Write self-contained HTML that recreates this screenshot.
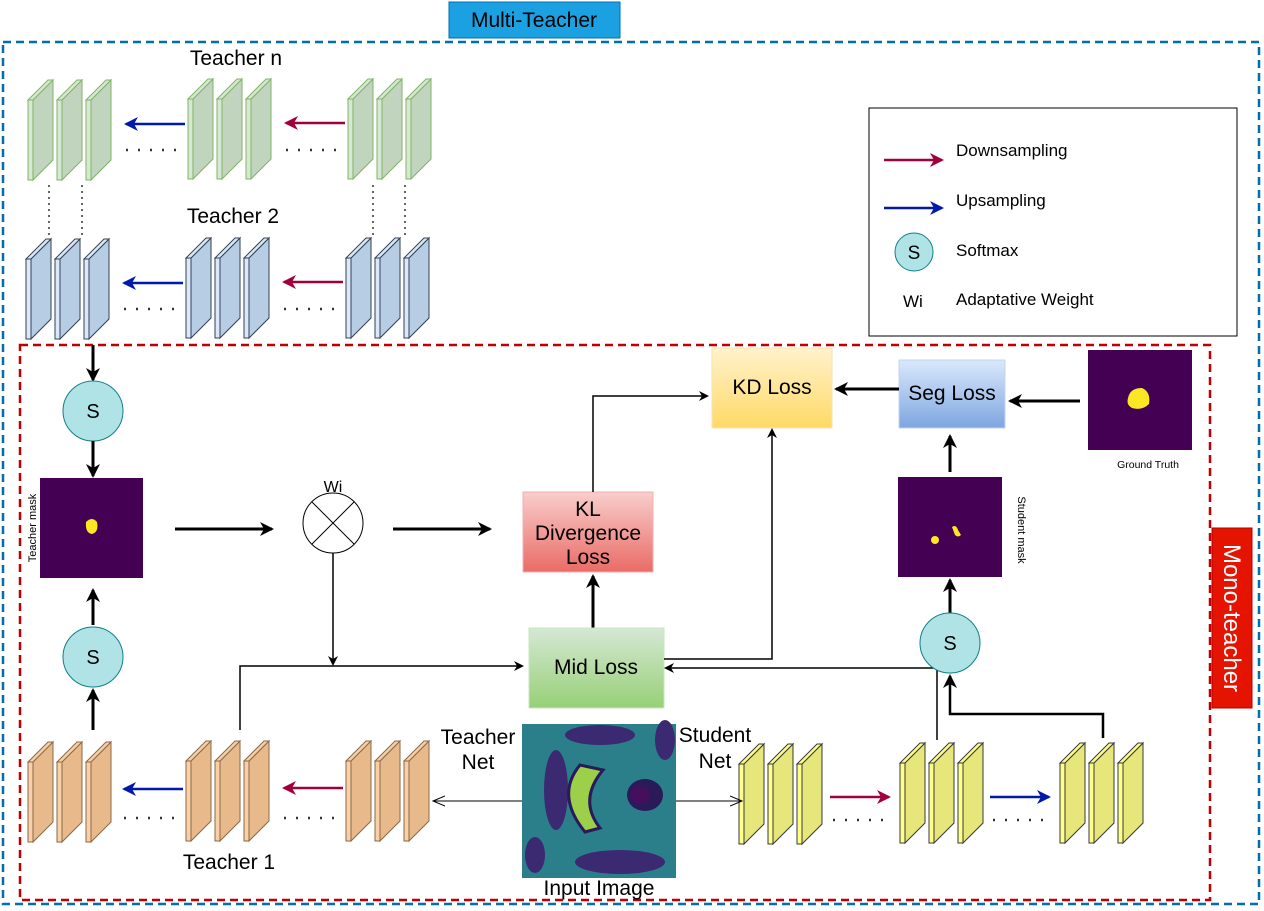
<!DOCTYPE html>
<html><head><meta charset="utf-8"><style>
body{margin:0;background:#fff;}
svg{display:block;font-family:"Liberation Sans",Arial,sans-serif;}
</style></head><body>
<svg width="1264" height="911" viewBox="0 0 1264 911" xmlns="http://www.w3.org/2000/svg">
<defs>
<marker id="ab" markerWidth="10" markerHeight="10" refX="8" refY="5" orient="auto" markerUnits="userSpaceOnUse"><path d="M0,0 L10,5 L0,10 L3,5 z" fill="#000"/></marker>
<marker id="abig" markerWidth="14" markerHeight="14" refX="12" refY="7" orient="auto" markerUnits="userSpaceOnUse"><path d="M0,0 L14,7 L0,14 L4,7 z" fill="#000"/></marker>
<marker id="ablue" markerWidth="14" markerHeight="14" refX="12" refY="7" orient="auto" markerUnits="userSpaceOnUse"><path d="M0,0 L14,7 L0,14 L4,7 z" fill="#0019a8"/></marker>
<marker id="ared" markerWidth="14" markerHeight="14" refX="12" refY="7" orient="auto" markerUnits="userSpaceOnUse"><path d="M0,0 L14,7 L0,14 L4,7 z" fill="#a0003c"/></marker>
<marker id="aopen" markerWidth="14" markerHeight="14" refX="12" refY="7" orient="auto" markerUnits="userSpaceOnUse"><path d="M0,2 L12,7 L0,12" fill="none" stroke="#000" stroke-width="1"/></marker>
<g id="lg"><polygon points="0,20 5,20 5,100 0,100" fill="#d5e8d4" stroke="#82b366"/><polygon points="5,20 25,0 25,80 5,100" fill="#c0d4be" stroke="#82b366"/><polygon points="0,20 20,0 25,0 5,20" fill="#d5e8d4" stroke="#82b366"/></g>
<g id="lb"><polygon points="0,20 5,20 5,100 0,100" fill="#dae8fc" stroke="#36424f"/><polygon points="5,20 25,0 25,80 5,100" fill="#b6cde4" stroke="#36424f"/><polygon points="0,20 20,0 25,0 5,20" fill="#dae8fc" stroke="#36424f"/></g>
<g id="lo"><polygon points="0,20 5,20 5,100 0,100" fill="#f8cfa6" stroke="#8a6a4a"/><polygon points="5,20 25,0 25,80 5,100" fill="#e8b98a" stroke="#8a6a4a"/><polygon points="0,20 20,0 25,0 5,20" fill="#f8cfa6" stroke="#8a6a4a"/></g>
<g id="ly"><polygon points="0,20 5,20 5,100 0,100" fill="#ffff88" stroke="#36393d"/><polygon points="5,20 25,0 25,80 5,100" fill="#e6e67a" stroke="#36393d"/><polygon points="0,20 20,0 25,0 5,20" fill="#ffff88" stroke="#36393d"/></g>
<linearGradient id="gkl" x1="0" y1="0" x2="0" y2="1"><stop offset="0" stop-color="#f8cecc"/><stop offset="1" stop-color="#ea6b66"/></linearGradient>
<linearGradient id="gkd" x1="0" y1="0" x2="0" y2="1"><stop offset="0" stop-color="#fff2cc"/><stop offset="1" stop-color="#ffd966"/></linearGradient>
<linearGradient id="gmid" x1="0" y1="0" x2="0" y2="1"><stop offset="0" stop-color="#d5e8d4"/><stop offset="1" stop-color="#97d077"/></linearGradient>
<linearGradient id="gseg" x1="0" y1="0" x2="0" y2="1"><stop offset="0" stop-color="#dae8fc"/><stop offset="1" stop-color="#7ea6e0"/></linearGradient>
</defs>

<rect x="3" y="42" width="1256" height="862" fill="none" stroke="#006eaf" stroke-width="2.5" stroke-dasharray="8,5"/>
<rect x="20" y="345" width="1190" height="555" fill="none" stroke="#c00000" stroke-width="2.5" stroke-dasharray="8,5"/>
<rect x="449" y="2" width="171" height="36" fill="#1ba1e2" stroke="#006eaf"/>
<text x="534" y="27" font-size="21" text-anchor="middle">Multi-Teacher</text>
<rect x="1212" y="528" width="40" height="180" fill="#e51400" stroke="#b20000"/>
<text transform="translate(1224,618) rotate(90)" font-size="24" fill="#fff" text-anchor="middle">Mono-teacher</text>

<rect x="869" y="108" width="368" height="228" fill="#fff" stroke="#000"/>
<line x1="884" y1="160" x2="942" y2="160" stroke="#a0003c" stroke-width="2.5" marker-end="url(#ared)"/>
<text x="956" y="156" font-size="17">Downsampling</text>
<line x1="884" y1="208" x2="942" y2="208" stroke="#0019a8" stroke-width="2.5" marker-end="url(#ablue)"/>
<text x="956" y="206" font-size="17">Upsampling</text>
<circle cx="914" cy="252" r="19" fill="#b0e3e6" stroke="#0e8088"/>
<text x="914" y="259" font-size="19" text-anchor="middle">S</text>
<text x="956" y="256" font-size="17">Softmax</text>
<text x="903" y="307" font-size="17">Wi</text>
<text x="956" y="305" font-size="17">Adaptative Weight</text>

<text x="236" y="65" font-size="21" text-anchor="middle">Teacher n</text>
<use href="#lg" x="28" y="80"/><use href="#lg" x="57" y="80"/><use href="#lg" x="86" y="80"/>
<use href="#lg" x="188" y="79"/><use href="#lg" x="217" y="79"/><use href="#lg" x="246" y="79"/>
<use href="#lg" x="348" y="79"/><use href="#lg" x="377" y="79"/><use href="#lg" x="406" y="79"/>
<line x1="185" y1="124" x2="126" y2="124" stroke="#0019a8" stroke-width="2.5" marker-end="url(#ablue)"/>
<line x1="345" y1="123" x2="286" y2="123" stroke="#a0003c" stroke-width="2.5" marker-end="url(#ared)"/>
<line x1="126" y1="150" x2="176" y2="150" stroke="#333" stroke-width="2.5" stroke-dasharray="2,10"/>
<line x1="286" y1="150" x2="336" y2="150" stroke="#333" stroke-width="2.5" stroke-dasharray="2,10"/>
<g stroke="#333" stroke-width="1.5" stroke-dasharray="2,4">
<line x1="49" y1="185" x2="49" y2="235"/><line x1="82" y1="185" x2="82" y2="235"/>
<line x1="373" y1="185" x2="373" y2="235"/><line x1="405" y1="185" x2="405" y2="235"/>
</g>

<text x="233" y="223" font-size="21" text-anchor="middle">Teacher 2</text>
<use href="#lb" x="26" y="239"/><use href="#lb" x="55" y="239"/><use href="#lb" x="84" y="239"/>
<use href="#lb" x="186" y="238"/><use href="#lb" x="215" y="238"/><use href="#lb" x="244" y="238"/>
<use href="#lb" x="346" y="238"/><use href="#lb" x="375" y="238"/><use href="#lb" x="404" y="238"/>
<line x1="183" y1="283" x2="124" y2="283" stroke="#0019a8" stroke-width="2.5" marker-end="url(#ablue)"/>
<line x1="343" y1="282" x2="284" y2="282" stroke="#a0003c" stroke-width="2.5" marker-end="url(#ared)"/>
<line x1="124" y1="309" x2="174" y2="309" stroke="#333" stroke-width="2.5" stroke-dasharray="2,10"/>
<line x1="284" y1="309" x2="334" y2="309" stroke="#333" stroke-width="2.5" stroke-dasharray="2,10"/>

<use href="#lo" x="28" y="742"/><use href="#lo" x="57" y="742"/><use href="#lo" x="86" y="742"/>
<use href="#lo" x="186" y="741"/><use href="#lo" x="215" y="741"/><use href="#lo" x="244" y="741"/>
<use href="#lo" x="346" y="741"/><use href="#lo" x="375" y="741"/><use href="#lo" x="404" y="741"/>
<line x1="183" y1="789" x2="124" y2="789" stroke="#0019a8" stroke-width="2.5" marker-end="url(#ablue)"/>
<line x1="343" y1="788" x2="284" y2="788" stroke="#a0003c" stroke-width="2.5" marker-end="url(#ared)"/>
<line x1="124" y1="818" x2="174" y2="818" stroke="#333" stroke-width="2.5" stroke-dasharray="2,10"/>
<line x1="284" y1="818" x2="334" y2="818" stroke="#333" stroke-width="2.5" stroke-dasharray="2,10"/>
<text x="229" y="869" font-size="21" text-anchor="middle">Teacher 1</text>

<use href="#ly" x="739" y="744"/><use href="#ly" x="768" y="744"/><use href="#ly" x="797" y="744"/>
<use href="#ly" x="900" y="743"/><use href="#ly" x="929" y="743"/><use href="#ly" x="958" y="743"/>
<use href="#ly" x="1060" y="743"/><use href="#ly" x="1089" y="743"/><use href="#ly" x="1118" y="743"/>
<line x1="830" y1="797" x2="889" y2="797" stroke="#a0003c" stroke-width="2.5" marker-end="url(#ared)"/>
<line x1="990" y1="797" x2="1049" y2="797" stroke="#0019a8" stroke-width="2.5" marker-end="url(#ablue)"/>
<line x1="833" y1="820" x2="883" y2="820" stroke="#333" stroke-width="2.5" stroke-dasharray="2,10"/>
<line x1="993" y1="820" x2="1043" y2="820" stroke="#333" stroke-width="2.5" stroke-dasharray="2,10"/>

<rect x="522" y="724" width="154" height="154" fill="#2a7f8a"/>
<ellipse cx="556" cy="790" rx="12" ry="40" fill="#3b2a72"/>
<path d="M580,765 Q555,795 585,832 L600,828 Q578,800 603,770 Z" fill="#9ccf4a" stroke="#2b1a5a" stroke-width="3"/>
<ellipse cx="645" cy="795" rx="18" ry="16" fill="#2a1a5a"/>
<ellipse cx="640" cy="795" rx="10" ry="9" fill="#44105e"/>
<ellipse cx="600" cy="735" rx="35" ry="10" fill="#3b2a72"/>
<ellipse cx="620" cy="862" rx="45" ry="12" fill="#3b2a72"/>
<ellipse cx="535" cy="855" rx="10" ry="18" fill="#3b2a72"/>
<ellipse cx="665" cy="740" rx="10" ry="20" fill="#3b2a72"/>
<line x1="522" y1="801" x2="433" y2="801" stroke="#000" stroke-width="1" marker-end="url(#aopen)"/>
<line x1="676" y1="801" x2="742" y2="801" stroke="#000" stroke-width="1" marker-end="url(#aopen)"/>
<text x="478" y="744" font-size="21" text-anchor="middle">Teacher</text>
<text x="478" y="769" font-size="21" text-anchor="middle">Net</text>
<text x="715" y="742" font-size="21" text-anchor="middle">Student</text>
<text x="715" y="768" font-size="21" text-anchor="middle">Net</text>
<text x="599" y="895" font-size="21" text-anchor="middle">Input Image</text>

<line x1="93" y1="345" x2="93" y2="380" stroke="#000" stroke-width="3" marker-end="url(#abig)"/>
<circle cx="93" cy="411" r="30" fill="#b0e3e6" stroke="#0e8088"/>
<text x="93" y="418" font-size="20" text-anchor="middle">S</text>
<line x1="93" y1="441" x2="93" y2="476" stroke="#000" stroke-width="3" marker-end="url(#abig)"/>
<rect x="40" y="478" width="103" height="100" fill="#440154"/>
<path d="M86,522 Q92,516 97,522 Q99,532 92,534 Q85,533 86,522Z" fill="#fde725"/>
<text transform="translate(36,528) rotate(-90)" font-size="11" text-anchor="middle">Teacher mask</text>
<line x1="93" y1="625" x2="93" y2="590" stroke="#000" stroke-width="3" marker-end="url(#abig)"/>
<circle cx="93" cy="657" r="30" fill="#b0e3e6" stroke="#0e8088"/>
<text x="93" y="664" font-size="20" text-anchor="middle">S</text>
<line x1="93" y1="730" x2="93" y2="690" stroke="#000" stroke-width="3" marker-end="url(#abig)"/>

<line x1="175" y1="529" x2="272" y2="529" stroke="#000" stroke-width="3" marker-end="url(#abig)"/>
<text x="333" y="492" font-size="16" text-anchor="middle">Wi</text>
<circle cx="333" cy="523" r="30" fill="#fff" stroke="#000"/>
<line x1="312" y1="502" x2="354" y2="544" stroke="#000"/><line x1="354" y1="502" x2="312" y2="544" stroke="#000"/>
<line x1="393" y1="529" x2="490" y2="529" stroke="#000" stroke-width="3" marker-end="url(#abig)"/>
<line x1="333" y1="553" x2="333" y2="664" stroke="#000" stroke-width="1.5" marker-end="url(#ab)"/>
<polyline points="240,730 240,666 522,666" fill="none" stroke="#000" stroke-width="1.5" marker-end="url(#ab)"/>

<rect x="523" y="492" width="130" height="80" fill="url(#gkl)" stroke="#f0b0b0"/>
<text x="588" y="516" font-size="21" text-anchor="middle">KL</text>
<text x="588" y="540" font-size="21" text-anchor="middle">Divergence</text>
<text x="588" y="564" font-size="21" text-anchor="middle">Loss</text>
<line x1="593" y1="628" x2="593" y2="576" stroke="#000" stroke-width="3" marker-end="url(#abig)"/>
<polyline points="593,492 593,396 707,396" fill="none" stroke="#000" stroke-width="1.5" marker-end="url(#ab)"/>

<rect x="712" y="348" width="120" height="80" fill="url(#gkd)" stroke="#f5e6b0"/>
<text x="772" y="394" font-size="21" text-anchor="middle">KD Loss</text>

<rect x="529" y="628" width="135" height="80" fill="url(#gmid)" stroke="#c8e6c0"/>
<text x="596" y="674" font-size="21" text-anchor="middle">Mid Loss</text>
<polyline points="664,659 772,659 772,430" fill="none" stroke="#000" stroke-width="1.5" marker-end="url(#ab)"/>
<polyline points="937,740 937,668 666,668" fill="none" stroke="#000" stroke-width="1.5" marker-end="url(#ab)"/>

<rect x="899" y="360" width="106" height="68" fill="url(#gseg)" stroke="#c0d4f0"/>
<text x="952" y="400" font-size="21" text-anchor="middle">Seg Loss</text>
<line x1="899" y1="389" x2="836" y2="389" stroke="#000" stroke-width="3" marker-end="url(#abig)"/>
<rect x="1088" y="350" width="104" height="100" fill="#440154"/>
<path d="M1128,398 Q1130,388 1142,388 Q1151,392 1149,404 Q1142,411 1132,408 Q1126,405 1128,398Z" fill="#fde725"/>
<text x="1148" y="468" font-size="10.5" text-anchor="middle">Ground Truth</text>
<line x1="1080" y1="401" x2="1010" y2="401" stroke="#000" stroke-width="3" marker-end="url(#abig)"/>
<line x1="950" y1="472" x2="950" y2="436" stroke="#000" stroke-width="3" marker-end="url(#abig)"/>
<rect x="898" y="477" width="104" height="100" fill="#440154"/>
<circle cx="935" cy="540" r="4" fill="#fde725"/>
<path d="M952,527 Q956,524 958,530 L961,535 Q958,538 955,535Z" fill="#fde725"/>
<text transform="translate(1018,530) rotate(90)" font-size="11" text-anchor="middle">Student mask</text>
<line x1="950" y1="614" x2="950" y2="580" stroke="#000" stroke-width="3" marker-end="url(#abig)"/>
<circle cx="950" cy="643" r="30" fill="#b0e3e6" stroke="#0e8088"/>
<text x="950" y="650" font-size="20" text-anchor="middle">S</text>
<polyline points="1103,738 1103,714 950,714 950,676" fill="none" stroke="#000" stroke-width="2.5" marker-end="url(#abig)"/>
</svg>
</body></html>
